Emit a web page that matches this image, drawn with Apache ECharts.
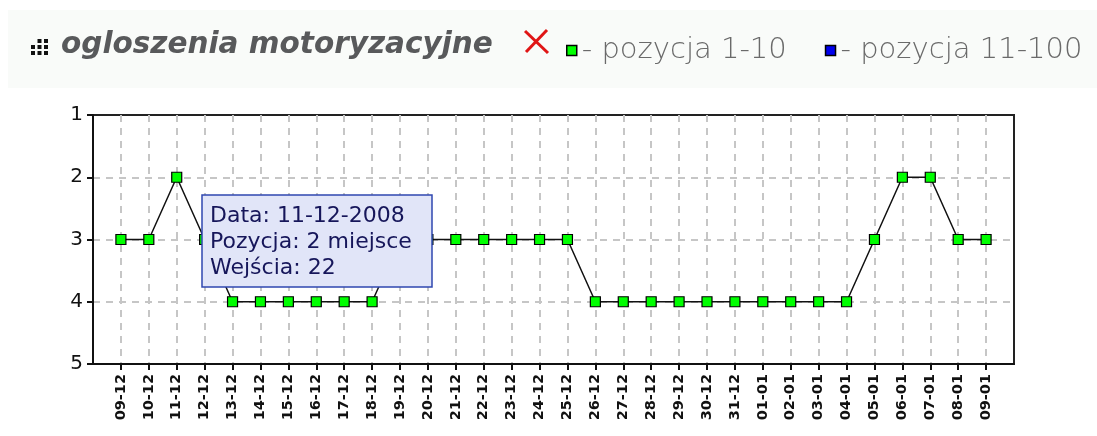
<!DOCTYPE html>
<html>
<head>
<meta charset="utf-8">
<script src="https://cdn.jsdelivr.net/npm/echarts@6/dist/echarts.min.js"></script>
<style>html,body{margin:0;padding:0;background:#fff}#c{width:1097px;height:436px}</style>
</head>
<body>
<div id="c"></div>
<script>
// ---- data ----
const categories = ['09-12','10-12','11-12','12-12','13-12','14-12','15-12','16-12','17-12','18-12','19-12','20-12','21-12','22-12','23-12','24-12','25-12','26-12','27-12','28-12','29-12','30-12','31-12','01-01','02-01','03-01','04-01','05-01','06-01','07-01','08-01','09-01'];
const positions = [3,3,2,3,4,4,4,4,4,4,3,3,3,3,3,3,3,4,4,4,4,4,4,4,4,4,4,3,2,2,3,3];
const yTicks = [1,2,3,4,5];
const seriesNames = ['pozycja 1-10','pozycja 11-100'];
const titleText = 'ogloszenia motoryzacyjne';
const tooltipLines = ['Data: 11-12-2008','Pozycja: 2 miejsce','Wejścia: 22'];

// pad one empty slot on each side so points sit one step in from the frame
const xCats = [''].concat(categories, ['']);
const xData = [null].concat(positions, [null]);
const last = xCats.length - 1;
const inner = (i) => i > 0 && i < last;

const chart = echarts.init(document.getElementById('c'), null, {renderer:'canvas'});

const dots = [];
[[1,0],[2,0],[0,1],[1,1],[2,1],[0,2],[1,2],[2,2]].forEach(([c,r]) => {
  dots.push({type:'rect', z:10, shape:{x:31 + c*6.5, y:39 + r*6, width:4, height:4}, style:{fill:'#111'}});
});

const ttStyle = {fontFamily:'DejaVu Sans', fontSize:22, fill:'#16165a', verticalAlign:'middle'};

chart.setOption({
  animation:false,
  backgroundColor:'#fff',
  grid:{left:93, top:115, right:83, bottom:72, show:true, borderColor:'#222', borderWidth:2},
  legend:{
    left:561, top:31, icon:'rect', itemWidth:10, itemHeight:10, itemGap:38,
    formatter:(n)=>'- ' + n,
    textStyle:{fontFamily:'DejaVu Sans', fontSize:29, fontWeight:200, color:'#6a6a6a', padding:[0,0,9,0]},
    data:[
      {name:seriesNames[0], itemStyle:{color:'#00ff00', borderColor:'#000', borderWidth:1.5}},
      {name:seriesNames[1], itemStyle:{color:'#0000ee', borderColor:'#000', borderWidth:1.5}}
    ]
  },
  xAxis:{
    type:'category', data:xCats, boundaryGap:false,
    axisLine:{lineStyle:{color:'#111', width:2}},
    axisTick:{interval:(i)=>inner(i), length:6, lineStyle:{color:'#111', width:2}},
    axisLabel:{interval:0, rotate:90, margin:10, fontFamily:'DejaVu Sans', fontWeight:'bold', fontSize:14.5, color:'#111'},
    splitLine:{show:true, interval:(i)=>inner(i), lineStyle:{color:'#c6c6c6', width:2, type:[7,6]}}
  },
  yAxis:{
    type:'value', inverse:true, min:yTicks[0], max:yTicks[yTicks.length-1], interval:1,
    axisLine:{show:true, lineStyle:{color:'#111', width:2}},
    axisTick:{show:true, length:6, lineStyle:{color:'#111', width:2}},
    axisLabel:{margin:10, fontFamily:'DejaVu Sans', fontSize:20, color:'#111'},
    splitLine:{show:true, showMinLine:false, showMaxLine:false, lineStyle:{color:'#c6c6c6', width:2, type:[7,6]}}
  },
  series:[
    {name:seriesNames[0], type:'line', data:xData, symbol:'rect', symbolSize:10, showSymbol:true,
     connectNulls:false,
     lineStyle:{color:'#111', width:1.5},
     itemStyle:{color:'#00ff00', borderColor:'#000', borderWidth:1.2}, z:3},
    {name:seriesNames[1], type:'line', data:[], symbol:'rect',
     itemStyle:{color:'#0000ee', borderColor:'#000', borderWidth:1.2}}
  ],
  graphic:[
    {type:'rect', z:-10, silent:true, shape:{x:8, y:10, width:1089, height:78}, style:{fill:'#f9fbf9'}},
    {type:'group', children:dots},
    {type:'text', z:10, left:61, top:30, style:{text:titleText, fontFamily:'DejaVu Sans', fontWeight:'bold', fontStyle:'italic', fontSize:29.5, fill:'#58595b'}},
    {type:'group', children:[
      {type:'line', z:10, shape:{x1:525, y1:31, x2:548, y2:53}, style:{stroke:'#e01515', lineWidth:3}},
      {type:'line', z:10, shape:{x1:547, y1:30, x2:526, y2:52}, style:{stroke:'#e01515', lineWidth:3}}
    ]},
    {type:'group', zlevel:1, children:[
      {type:'rect', z:100, shape:{x:202, y:195, width:230, height:92}, style:{fill:'#e1e5f8', stroke:'#2f47b0', lineWidth:1.5}},
      {type:'text', z:101, x:210, y:216, style:Object.assign({text:tooltipLines[0]}, ttStyle)},
      {type:'text', z:101, x:210, y:242, style:Object.assign({text:tooltipLines[1]}, ttStyle)},
      {type:'text', z:101, x:210, y:268, style:Object.assign({text:tooltipLines[2]}, ttStyle)}
    ]}
  ]
});
</script>
</body>
</html>
